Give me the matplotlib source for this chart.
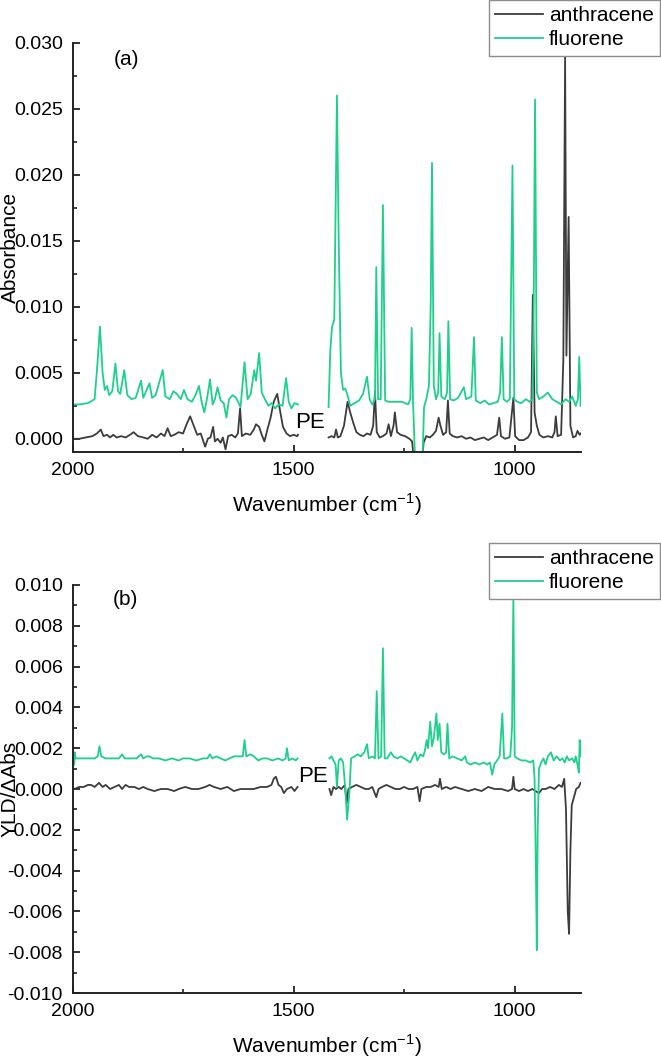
"""
Linear dichroism spectra of anthracene / fluorene in stretched PE
(a) absorbance, (b) reduced LD
"""

import numpy as np
import matplotlib
matplotlib.use('Agg')
import matplotlib.pyplot as plt
from matplotlib.ticker import MultipleLocator, FuncFormatter

plt.rcParams['font.family'] = ['Liberation Sans', 'DejaVu Sans']

# ---- data: (wavenumber cm-1, value) ----
# the PE window (~1490-1420 cm-1) is left out -> two segments per trace

# (a) absorbance, fluorene
flu_abs_1 = [(1998, .0026), (1985, .0026), (1965, .0027), (1950, .0030), (1944, .0055), (1938, .0085),
             (1932, .0050), (1927, .0037), (1922, .0040), (1917, .0033), (1910, .0036), (1903, .0057),
             (1897, .0036), (1892, .0034), (1883, .0052), (1876, .0033), (1866, .0030), (1857, .0031),
             (1845, .0044), (1840, .0031), (1835, .0035), (1826, .0042), (1820, .0031), (1812, .0033),
             (1796, .0052), (1790, .0032), (1780, .0030), (1772, .0036), (1764, .0034), (1755, .0030),
             (1748, .0037), (1740, .0030), (1730, .0028), (1722, .0033), (1714, .0040), (1708, .0028),
             (1702, .0020), (1696, .0030), (1689, .0045), (1683, .0026), (1678, .0030), (1672, .0039),
             (1665, .0029), (1658, .0027), (1652, .0016), (1646, .0030), (1638, .0033), (1630, .0031),
             (1620, .0024), (1611, .0058), (1604, .0030), (1597, .0034), (1589, .0052), (1585, .0044),
             (1578, .0065), (1572, .0035), (1565, .0030), (1557, .0025), (1550, .0027), (1542, .0023),
             (1534, .0026), (1525, .0025), (1517, .0046), (1511, .0028), (1505, .0023), (1498, .0027),
             (1490, .0026)]
flu_abs_2 = [(1421, .0024), (1417, .0067), (1413, .0085), (1408, .0090), (1402, .0260), (1398, .0150),
             (1393, .0050), (1388, .0037), (1383, .0038), (1378, .0033), (1372, .0025), (1362, .0027),
             (1352, .0029), (1343, .0034), (1334, .0047), (1328, .0030), (1322, .0026), (1316, .0030),
             (1313, .0130), (1309, .0030), (1303, .0030), (1298, .0177), (1293, .0029), (1285, .0028),
             (1270, .0028), (1255, .0028), (1241, .0026), (1236, .0030), (1233, .0084), (1230, .0030),
             (1226, -.0010), (1222, -.0030), (1212, -.0030), (1208, -.0010), (1205, .0024), (1200, .0030),
             (1194, .0040), (1190, .0100), (1187, .0209), (1183, .0040), (1178, .0030), (1173, .0035),
             (1170, .0080), (1166, .0032), (1158, .0030), (1153, .0035), (1150, .0089), (1146, .0030),
             (1138, .0029), (1128, .0031), (1120, .0036), (1115, .0039), (1110, .0030), (1098, .0032),
             (1092, .0077), (1088, .0029), (1078, .0027), (1068, .0029), (1058, .0026), (1048, .0027),
             (1038, .0028), (1033, .0035), (1029, .0077), (1025, .0030), (1018, .0028), (1011, .0030),
             (1005, .0207), (1001, .0030), (994, .0028), (985, .0027), (975, .0030), (966, .0028),
             (960, .0030), (957, .0100), (954, .0257), (950, .0035), (945, .0030), (935, .0032),
             (925, .0035), (915, .0030), (905, .0028), (895, .0026), (885, .0030), (877, .0028),
             (870, .0032), (862, .0025), (857, .0030), (854, .0062), (851, .0025)]

# (a) absorbance, anthracene
ant_abs_1 = [(1998, .0000), (1985, .0000), (1970, .0001), (1955, .0002), (1945, .0004), (1936, .0007),
             (1930, .0002), (1922, .0003), (1915, .0001), (1908, .0003), (1900, .0001), (1890, .0002),
             (1880, .0001), (1870, .0003), (1862, .0005), (1852, .0002), (1840, .0001), (1830, .0000),
             (1820, .0003), (1810, .0001), (1800, .0004), (1792, .0002), (1785, .0008), (1778, .0002),
             (1770, .0003), (1760, .0005), (1750, .0004), (1742, .0011), (1734, .0017), (1726, .0010),
             (1718, .0003), (1710, .0004), (1704, -.0002), (1700, -.0006), (1694, .0000), (1688, .0001),
             (1682, .0009), (1678, -.0002), (1672, .0000), (1665, -.0003), (1660, .0001), (1654, -.0008),
             (1648, .0002), (1640, .0003), (1632, .0001), (1626, .0004), (1621, .0023), (1617, .0002),
             (1608, .0004), (1598, .0003), (1590, .0007), (1585, .0011), (1578, .0009), (1572, .0003),
             (1566, -.0002), (1560, .0006), (1552, .0016), (1545, .0028), (1537, .0034), (1530, .0020),
             (1524, .0009), (1516, .0004), (1508, .0002), (1500, .0003), (1492, .0002), (1490, .0003)]
ant_abs_2 = [(1421, .0001), (1414, .0002), (1408, .0001), (1404, .0007), (1400, .0001), (1394, .0002),
             (1386, .0010), (1378, .0028), (1372, .0020), (1365, .0012), (1358, .0005), (1350, .0003),
             (1342, .0002), (1334, .0004), (1326, .0003), (1320, .0010), (1316, .0036), (1312, .0005),
             (1305, .0001), (1298, .0002), (1290, .0004), (1285, .0011), (1280, .0002), (1274, .0010),
             (1271, .0020), (1266, .0005), (1258, .0003), (1248, .0002), (1238, .0000), (1232, -.0002),
             (1227, -.0020), (1210, -.0020), (1206, -.0003), (1200, .0002), (1192, .0001), (1185, .0003),
             (1178, .0006), (1172, .0016), (1168, .0010), (1162, .0003), (1155, .0005), (1151, .0029),
             (1147, .0004), (1140, .0002), (1130, .0001), (1120, .0002), (1110, .0000), (1100, .0001),
             (1090, -.0001), (1080, .0000), (1070, .0001), (1060, -.0001), (1050, .0001), (1040, .0003),
             (1035, .0016), (1031, .0002), (1022, .0000), (1012, .0001), (1003, .0031), (999, .0002),
             (990, -.0001), (980, -.0001), (970, .0001), (963, .0005), (959, .0109), (955, .0020),
             (950, .0010), (944, .0003), (935, .0001), (925, .0002), (915, .0001), (910, .0005),
             (907, .0017), (903, .0002), (895, .0003), (890, .0060), (886, .0289), (883, .0063),
             (878, .0168), (874, .0010), (868, .0001), (862, .0002), (858, .0006), (853, .0003),
             (851, .0004)]

# (b) reduced LD, fluorene
flu_ld_1 = [(1996, .0012), (1995, .0018), (1993, .0015), (1985, .0015), (1970, .0015), (1950, .0015),
            (1943, .0016), (1939, .0021), (1935, .0016), (1925, .0015), (1910, .0015), (1895, .0015),
            (1888, .0017), (1882, .0015), (1865, .0015), (1855, .0015), (1845, .0017), (1840, .0015),
            (1832, .0016), (1826, .0016), (1818, .0015), (1805, .0015), (1790, .0014), (1775, .0015),
            (1760, .0014), (1750, .0015), (1735, .0015), (1720, .0014), (1705, .0015), (1695, .0015),
            (1689, .0017), (1684, .0015), (1675, .0016), (1665, .0015), (1655, .0014), (1645, .0015),
            (1635, .0016), (1625, .0016), (1615, .0016), (1611, .0024), (1607, .0016), (1598, .0017),
            (1590, .0016), (1580, .0014), (1570, .0015), (1560, .0015), (1548, .0014), (1535, .0015),
            (1525, .0014), (1518, .0015), (1515, .0020), (1511, .0014), (1503, .0015), (1495, .0014),
            (1491, .0015)]
flu_ld_2 = [(1419, .0015), (1414, .0016), (1410, .0014), (1405, .0012), (1402, .0001), (1398, .0014),
            (1393, .0015), (1388, .0013), (1383, .0000), (1379, -.0015), (1374, -.0002), (1370, .0015),
            (1362, .0016), (1355, .0017), (1348, .0016), (1340, .0018), (1334, .0022), (1330, .0015),
            (1322, .0016), (1316, .0015), (1312, .0048), (1308, .0015), (1302, .0016), (1298, .0069),
            (1294, .0015), (1288, .0015), (1280, .0018), (1274, .0016), (1265, .0015), (1258, .0016),
            (1250, .0015), (1243, .0014), (1236, .0013), (1230, .0016), (1225, .0018), (1220, .0014),
            (1213, .0017), (1207, .0016), (1203, .0019), (1199, .0024), (1196, .0020), (1191, .0033),
            (1187, .0021), (1183, .0025), (1177, .0037), (1174, .0024), (1170, .0032), (1166, .0018),
            (1160, .0017), (1155, .0018), (1152, .0032), (1148, .0015), (1140, .0016), (1130, .0015),
            (1120, .0014), (1112, .0016), (1108, .0013), (1100, .0012), (1090, .0013), (1080, .0012),
            (1070, .0013), (1062, .0012), (1056, .0013), (1051, .0007), (1046, .0012), (1040, .0014),
            (1034, .0016), (1028, .0037), (1024, .0015), (1018, .0015), (1010, .0016), (1006, .0030),
            (1003, .0094), (1000, .0016), (994, .0015), (985, .0014), (975, .0014), (965, .0013),
            (958, .0014), (955, .0005), (952, -.0040), (950, -.0079), (948, -.0020), (945, .0010),
            (940, .0013), (935, .0015), (930, .0012), (925, .0016), (918, .0018), (912, .0014),
            (905, .0016), (898, .0014), (892, .0015), (887, .0013), (882, .0016), (877, .0014),
            (870, .0015), (865, .0013), (862, .0016), (858, .0012), (855, .0008), (853, .0024),
            (851, .0016)]

# (b) reduced LD, anthracene
ant_ld_1 = [(1996, .0000), (1985, .0001), (1975, .0001), (1965, .0002), (1958, .0002), (1950, .0001),
            (1940, .0003), (1932, .0001), (1925, .0002), (1915, .0000), (1905, .0001), (1895, .0002),
            (1888, .0000), (1880, .0002), (1872, .0001), (1860, .0001), (1850, .0000), (1840, .0001),
            (1830, .0000), (1815, -.0001), (1800, .0000), (1785, .0000), (1770, -.0001), (1760, .0000),
            (1745, .0001), (1730, .0000), (1715, .0000), (1700, .0001), (1690, .0002), (1680, .0001),
            (1665, .0000), (1650, .0001), (1635, -.0001), (1620, .0000), (1605, .0000), (1590, .0000),
            (1575, .0001), (1560, .0001), (1550, .0002), (1545, .0005), (1540, .0006), (1534, .0002),
            (1528, .0001), (1522, -.0002), (1515, .0000), (1505, .0001), (1498, -.0001), (1491, .0001)]
ant_ld_2 = [(1419, .0000), (1415, -.0003), (1410, .0001), (1404, .0000), (1398, .0001), (1392, .0000),
            (1384, .0002), (1380, -.0007), (1376, .0000), (1368, .0001), (1358, .0002), (1348, .0001),
            (1338, .0000), (1330, .0000), (1322, .0001), (1313, -.0004), (1308, .0000), (1300, .0001),
            (1290, .0002), (1280, .0001), (1270, .0000), (1260, .0000), (1250, .0001), (1240, .0000),
            (1230, .0000), (1220, .0001), (1215, -.0006), (1211, .0000), (1200, .0001), (1190, .0001),
            (1180, .0002), (1172, .0001), (1169, .0005), (1165, .0000), (1155, .0001), (1145, .0000),
            (1135, .0001), (1120, .0000), (1105, -.0001), (1090, .0000), (1075, -.0001), (1060, .0001),
            (1045, .0000), (1030, .0000), (1015, -.0001), (1006, .0000), (1003, .0006), (1000, .0000),
            (990, -.0001), (980, .0000), (970, -.0001), (960, .0000), (953, -.0001), (945, -.0002),
            (938, .0000), (930, .0000), (920, .0001), (910, .0000), (900, .0002), (893, .0001),
            (888, .0005), (884, -.0010), (880, -.0060), (877, -.0071), (874, -.0030), (871, -.0008),
            (866, -.0004), (861, .0000), (855, .0001), (851, .0003)]

ANT_COLOR = '#3c3c3c'
FLU_COLOR = '#1ed08c'


def plot_segments(ax, segments, color, label):
    for i, seg in enumerate(segments):
        x, y = np.array(seg).T
        ax.plot(x, y, color=color, lw=1.3, label=label if i == 0 else None)


def style_axes(ax, ylim, major, minor, ylabel):
    ax.set_xlim(2000, 850)
    ax.set_ylim(*ylim)
    for side in ('top', 'right'):
        ax.spines[side].set_visible(False)
    for side in ('left', 'bottom'):
        ax.spines[side].set_linewidth(1.4)
        ax.spines[side].set_color('#222222')
    ax.xaxis.set_major_locator(MultipleLocator(500))
    ax.xaxis.set_minor_locator(MultipleLocator(250))
    ax.yaxis.set_major_locator(MultipleLocator(major))
    ax.yaxis.set_minor_locator(MultipleLocator(minor))
    ax.yaxis.set_major_formatter(FuncFormatter(lambda v, p: f'{round(v, 6) + 0.0:.3f}'))
    ax.tick_params(which='major', direction='in', length=5, width=1.3, labelsize=14,
                   color='#222222', pad=7)
    ax.tick_params(which='minor', direction='in', length=3, width=1.2, color='#222222')
    ax.set_xlabel('Wavenumber (cm$^{\\mathregular{-1}}$)', fontsize=15, labelpad=9)
    ax.set_ylabel(ylabel, fontsize=15)
    # label sits over the tick-label column, as in the original
    ax.yaxis.set_label_coords(-0.104, 0.5)


def add_legend(ax, fig, top):
    ax.legend(loc='upper right', bbox_to_anchor=(0.999, top), bbox_transform=fig.transFigure,
              fontsize=15, frameon=True, fancybox=False, edgecolor='#8c8c8c', framealpha=1,
              borderaxespad=0, borderpad=0.3, labelspacing=0.25, handlelength=2.3,
              handletextpad=0.3)


fig = plt.figure(figsize=(6.61, 10.59), dpi=100)
ax1 = fig.add_axes([0.1097, 0.5732, 0.7693, 0.3865])
ax2 = fig.add_axes([0.1097, 0.0623, 0.7693, 0.3853])

plot_segments(ax1, [ant_abs_1, ant_abs_2], ANT_COLOR, 'anthracene')
plot_segments(ax1, [flu_abs_1, flu_abs_2], FLU_COLOR, 'fluorene')
style_axes(ax1, (-0.001, 0.030), 0.005, 0.0025, 'Absorbance')
ax1.text(1879, 0.0287, '(a)', fontsize=15, ha='center', va='center')
ax1.text(1462, 0.0012, 'PE', fontsize=16, ha='center', va='center')
add_legend(ax1, fig, 1.0)

plot_segments(ax2, [ant_ld_1, ant_ld_2], ANT_COLOR, 'anthracene')
plot_segments(ax2, [flu_ld_1, flu_ld_2], FLU_COLOR, 'fluorene')
style_axes(ax2, (-0.010, 0.010), 0.002, 0.001, 'YLD/ΔAbs')
ax2.text(1880, 0.0093, '(b)', fontsize=15, ha='center', va='center')
ax2.text(1456, 0.0006, 'PE', fontsize=16, ha='center', va='center')
add_legend(ax2, fig, 0.4873)

fig.savefig('out.png', dpi=100, facecolor='white')
plt.close(fig)
